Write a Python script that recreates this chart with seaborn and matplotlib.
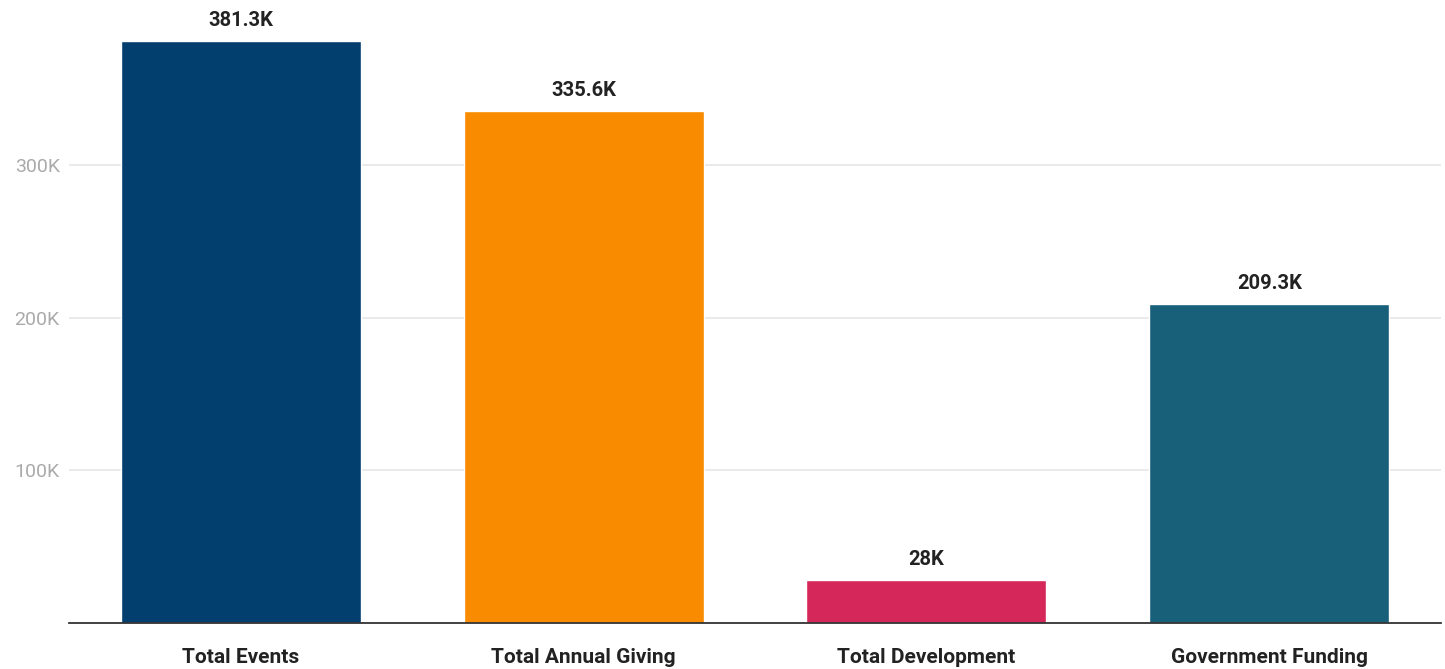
import pandas as pd
import matplotlib.pyplot as plt
import seaborn as sns
from matplotlib.ticker import FuncFormatter

# Datos del gráfico
categories = ['Total Events', 'Total Annual Giving', 'Total Development', 'Government Funding']
values = [381300, 335600, 28000, 209300]
value_labels = ['381.3K', '335.6K', '28K', '209.3K']
colors = ['#023e6e', '#f88b00', '#d5275a', '#185f7a']

df = pd.DataFrame({'category': categories, 'value': values})

sns.set_theme(style='white')
plt.rcParams['font.family'] = ['Roboto', 'DejaVu Sans']

fig = plt.figure(figsize=(14.45, 6.69), dpi=100)
ax = fig.add_axes([0.048, 0.069, 0.949, 0.931])

sns.barplot(data=df, x='category', y='value', hue='category', palette=colors,
            legend=False, width=0.7, saturation=1, ax=ax)

# Etiquetas de valor sobre las barras
for i, (v, lab) in enumerate(zip(values, value_labels)):
    ax.annotate(lab, (i, v), xytext=(0, 8), textcoords='offset points',
                ha='center', va='bottom', fontsize=14.5, fontweight='bold', color='#222222')

ax.set_xlim(-0.5, 3.5)
ax.set_ylim(0, 408500)
ax.set_yticks([100000, 200000, 300000])
ax.yaxis.set_major_formatter(FuncFormatter(lambda x, p: f'{int(x/1000)}K'))
ax.grid(axis='y', color='#e6e6e6', linewidth=1.2)
ax.set_axisbelow(True)
ax.set_xlabel('')
ax.set_ylabel('')

for s in ['top', 'right', 'left']:
    ax.spines[s].set_visible(False)
ax.spines['bottom'].set_color('#333333')
ax.spines['bottom'].set_linewidth(1.3)

ax.tick_params(axis='y', length=0, pad=7, labelsize=14, labelcolor='#aaaaaa')
ax.tick_params(axis='x', length=5, width=1, color='#333333', pad=13, labelsize=15)
for t in ax.get_xticklabels():
    t.set_fontweight('bold')
    t.set_color('#222222')

fig.savefig('out.png', dpi=100)
